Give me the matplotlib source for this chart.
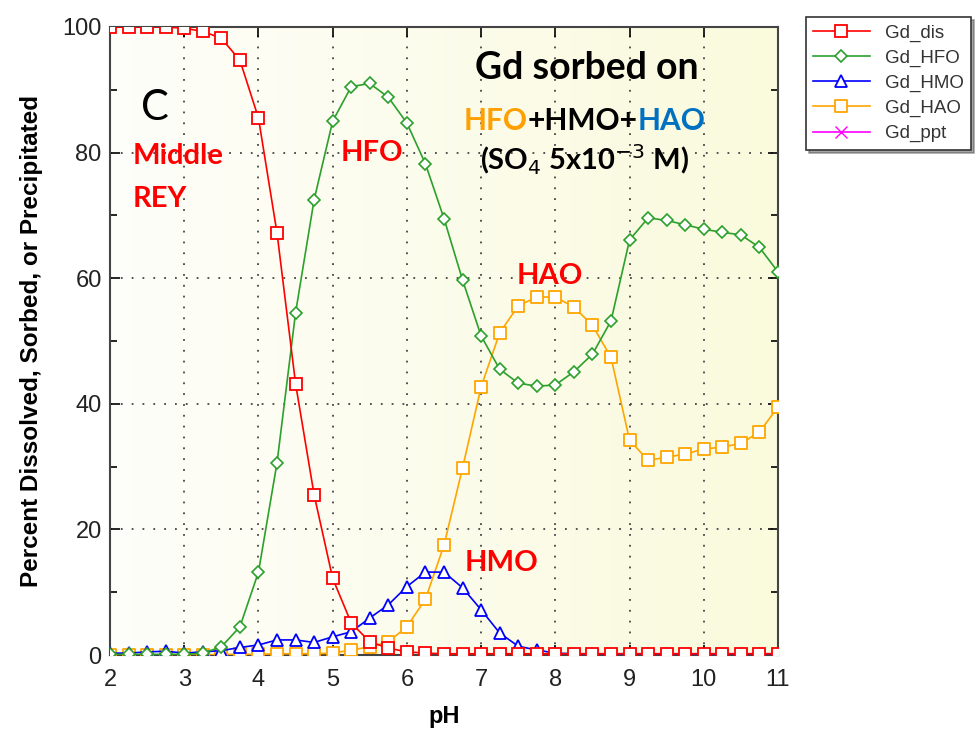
import matplotlib
matplotlib.use("Agg")
import matplotlib.pyplot as plt
import numpy as np
from matplotlib.markers import MarkerStyle
from matplotlib.colors import LinearSegmentedColormap
from matplotlib.offsetbox import TextArea, HPacker, AnnotationBbox

plt.rcParams["font.family"] = ["Liberation Sans", "DejaVu Sans"]

PH = np.arange(2.0, 11.01, 0.25)
GD_DIS = [100, 100, 100, 100, 99.8, 99.3, 98.2, 94.7, 85.5, 67.2, 43.2, 25.5, 12.2,
          5.1, 2.1, 1.1, 0.5, 0.3, 0.2, 0.2, 0.2, 0.2, 0.2, 0.2, 0.2, 0.2, 0.2, 0.2,
          0.2, 0.2, 0.2, 0.2, 0.2, 0.2, 0.2, 0.2, 0.2]
GD_HFO = [0.1, 0.1, 0.1, 0.1, 0.1, 0.3, 1.3, 4.5, 13.2, 30.6, 54.5, 72.5, 85.0,
          90.5, 91.0, 88.8, 84.7, 78.2, 69.5, 59.7, 50.8, 45.5, 43.3, 42.8, 43.0,
          45.1, 47.9, 53.2, 66.1, 69.6, 69.2, 68.5, 67.8, 67.3, 66.9, 64.9, 61.0]
GD_HMO = [0.3, 0.3, 0.5, 0.6, 0.3, 0.5, 0.7, 1.2, 1.6, 2.4, 2.4, 2.0, 2.9,
          3.7, 5.9, 8.0, 10.9, 13.2, 13.2, 10.7, 7.2, 3.5, 1.4, 0.8, 0.3, 0.2,
          0.2, 0.2, 0.2, 0.2, 0.2, 0.2, 0.2, 0.2, 0.2, 0.2, 0.2]
GD_HAO = [0.0, 0.0, 0.0, 0.0, 0.0, 0.0, 0.1, 0.1, 0.1, 0.2, 0.2, 0.2, 0.3,
          0.8, 1.3, 2.1, 4.5, 8.9, 17.5, 29.8, 42.7, 51.3, 55.6, 57.0, 57.0, 55.4,
          52.5, 47.4, 34.2, 31.0, 31.5, 32.0, 32.8, 33.1, 33.7, 35.5, 39.5]
GD_PPT = [0.0] * len(PH)

fig = plt.figure(figsize=(9.78, 7.33), dpi=100)
ax = fig.add_axes([0.1125, 0.1064, 0.683, 0.8568])

# pale yellow background gradient
grad = np.linspace(0, 1, 256).reshape(1, -1)
bg = LinearSegmentedColormap.from_list("bg", ["#fefefa", "#fafadd"])
ax.imshow(grad, extent=[2, 11, 0, 100], aspect="auto", cmap=bg, zorder=0,
          interpolation="bicubic")

sq = MarkerStyle("s", joinstyle="round")
ax.plot(PH, GD_PPT, color="#ff00ff", marker="x", ms=8, lw=1.2, label="Gd_ppt", zorder=2)
ax.plot(PH, GD_HAO, color="#ffa500", marker=sq, ms=8.5, mfc="white", mew=1.3, lw=1.2,
        label="Gd_HAO", zorder=3)
ax.plot(PH, GD_HMO, color="#0000ff", marker="^", ms=8.5, mfc="white", mew=1.3, lw=1.2,
        label="Gd_HMO", zorder=4)
ax.plot(PH, GD_HFO, color="#2ca02c", marker="D", ms=6.5, mfc="white", mew=1.2, lw=1.2,
        label="Gd_HFO", zorder=5)
ax.plot(PH, GD_DIS, color="#ff0000", marker="s", ms=8.5, mfc="white", mew=1.3, lw=1.2,
        label="Gd_dis", zorder=6)

ax.set_xlim(2, 11)
ax.set_ylim(0, 100)
ax.set_xticks(range(2, 12))
ax.set_yticks(range(0, 101, 20))
ax.set_yticks(range(0, 101, 10), minor=True)
ax.tick_params(which="both", direction="in", top=True, right=True, labelsize=17,
               labelcolor="#222222")
ax.tick_params(which="major", length=7, width=1.2, pad=6)
ax.tick_params(axis="x", which="major", pad=10)
ax.tick_params(which="minor", length=5, width=1.2)
ax.grid(True, which="major", color="#444444", linestyle=(0, (1, 5)), lw=1.3)
for s in ax.spines.values():
    s.set_linewidth(1.5)
    s.set_color("#444444")
ax.set_xlabel("pH", fontsize=17, fontweight="bold", labelpad=10)
ax.set_ylabel("Percent Dissolved, Sorbed, or Precipitated", fontsize=17.5,
              fontweight="bold", labelpad=14)

h, l = ax.get_legend_handles_labels()
order = [4, 3, 2, 1, 0]
leg = fig.legend([h[i] for i in order], [l[i] for i in order], loc="upper left",
                 bbox_to_anchor=(0.824, 0.977), frameon=True, fancybox=False, shadow=True,
                 fontsize=13.5, handlelength=3.0, borderaxespad=0, labelspacing=0.42,
                 borderpad=0.4, handletextpad=0.8)
leg.get_frame().set_edgecolor("#333333")
leg.get_frame().set_linewidth(1.2)
for t in leg.get_texts():
    t.set_color("#333333")

tf = ["Lato", "DejaVu Sans"]
ax.text(2.61, 87.1, "C", fontsize=30, family=tf, ha="center", va="center")
ax.text(2.3, 79.4, "Middle", fontsize=21, family=tf, fontweight="bold", color="red",
        ha="left", va="center")
ax.text(2.3, 72.6, "REY", fontsize=21, family=tf, fontweight="bold", color="red",
        ha="left", va="center")
ax.text(5.53, 80.0, "HFO", fontsize=21, family=tf, fontweight="bold", color="red",
        ha="center", va="center")
ax.text(7.92, 60.3, "HAO", fontsize=21, family=tf, fontweight="bold", color="red",
        ha="center", va="center")
ax.text(7.27, 14.6, "HMO", fontsize=21, family=tf, fontweight="bold", color="red",
        ha="center", va="center")
ax.text(8.42, 93.4, "Gd sorbed on", fontsize=27, family=tf, fontweight="bold",
        ha="center", va="center")
parts = [("HFO", "#ffa000"), ("+HMO+", "black"), ("HAO", "#0070c0")]
areas = [TextArea(s, textprops=dict(fontsize=21.5, family=tf, fontweight="bold", color=c))
         for s, c in parts]
box = HPacker(children=areas, align="center", pad=0, sep=0)
ax.add_artist(AnnotationBbox(box, (8.4, 85.0), xycoords="data", frameon=False,
                             box_alignment=(0.5, 0.5), zorder=7))
ax.text(8.4, 78.8, r"(SO$_4$ 5x10$^{-3}$ M)", fontsize=21, family=tf, fontweight="bold",
        ha="center", va="center")

fig.savefig("out.png", dpi=100)
